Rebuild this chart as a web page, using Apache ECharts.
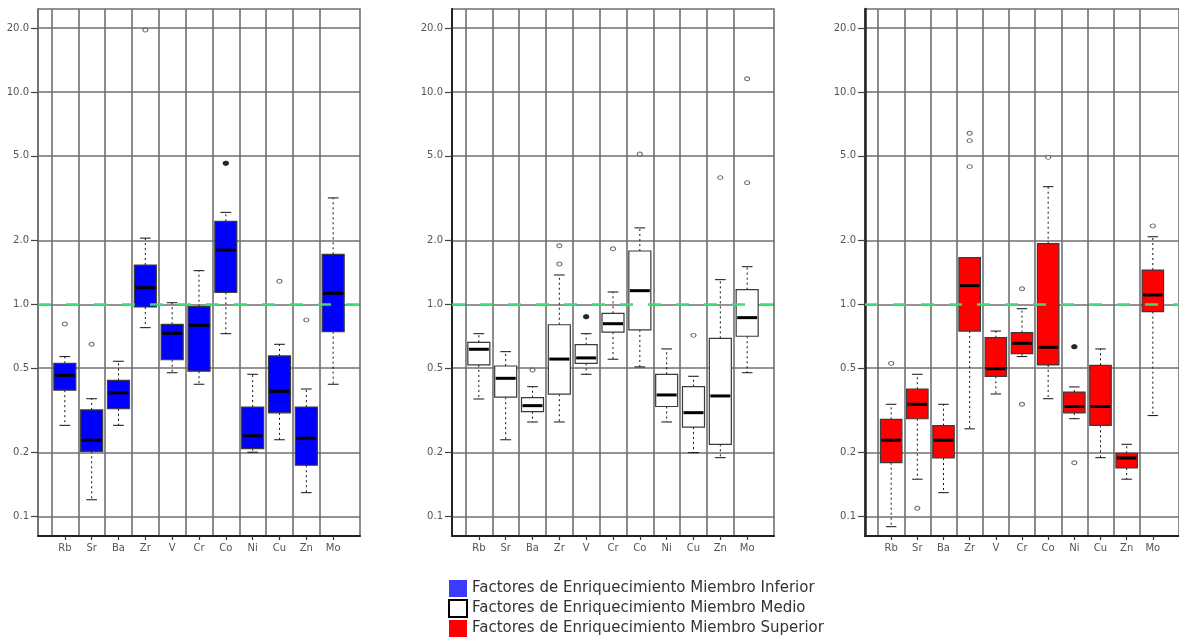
<!DOCTYPE html>
<html>
<head>
<meta charset="utf-8">
<script src="https://cdn.jsdelivr.net/npm/echarts@6/dist/echarts.min.js"></script>
<style>
  html, body { margin: 0; padding: 0; background: #ffffff; }
  #chart { width: 1179px; height: 643px; }
</style>
</head>
<body>
<div id="chart"></div>
<script>
// Elements shown on every panel, left to right
const elements = ['Rb', 'Sr', 'Ba', 'Zr', 'V', 'Cr', 'Co', 'Ni', 'Cu', 'Zn', 'Mo'];

// Log-scaled y axis: tick positions and their printed labels
const yTickValues = [0.1, 0.2, 0.5, 1, 2, 5, 10, 20];
const yTickLabels = ['0.1', '0.2', '0.5', '1.0', '2.0', '5.0', '10.0', '20.0'];
const yRange = [0.081, 24.6];
const referenceLevel = 1.0;

// Box statistics per element: [lower whisker, Q1, median, Q3, upper whisker]
const inferiorStats = [
  [0.269, 0.394, 0.463, 0.527, 0.567],
  [0.120, 0.203, 0.229, 0.318, 0.359],
  [0.269, 0.322, 0.383, 0.438, 0.539],
  [0.776, 0.971, 1.197, 1.53, 2.05],
  [0.476, 0.548, 0.730, 0.805, 1.017],
  [0.420, 0.484, 0.796, 0.974, 1.44],
  [0.727, 1.139, 1.80, 2.46, 2.71],
  [0.201, 0.209, 0.240, 0.328, 0.468],
  [0.230, 0.308, 0.389, 0.571, 0.648],
  [0.1296, 0.1745, 0.234, 0.328, 0.399],
  [0.420, 0.743, 1.127, 1.72, 3.17]
];
const inferiorOutliers = [[0.808], [0.648], [], [19.6], [], [], [4.62, 4.62], [], [1.283], [0.844], []];

const medioStats = [
  [0.358, 0.518, 0.614, 0.662, 0.727],
  [0.230, 0.365, 0.448, 0.512, 0.598],
  [0.279, 0.312, 0.333, 0.363, 0.409],
  [0.279, 0.377, 0.552, 0.801, 1.374],
  [0.468, 0.527, 0.559, 0.645, 0.727],
  [0.551, 0.740, 0.810, 0.907, 1.143],
  [0.507, 0.757, 1.159, 1.782, 2.29],
  [0.279, 0.330, 0.374, 0.468, 0.616],
  [0.200, 0.264, 0.3086, 0.409, 0.458],
  [0.1894, 0.219, 0.370, 0.691, 1.306],
  [0.476, 0.707, 0.865, 1.172, 1.503]
];
const medioOutliers = [[], [], [0.490], [1.548, 1.888], [0.874, 0.874], [1.827], [5.10], [], [0.714], [3.95], [3.74, 11.55]];

const superiorStats = [
  [0.0896, 0.1794, 0.229, 0.287, 0.338],
  [0.150, 0.289, 0.338, 0.398, 0.468],
  [0.1296, 0.1888, 0.229, 0.268, 0.338],
  [0.259, 0.748, 1.224, 1.658, 1.658],
  [0.378, 0.458, 0.497, 0.696, 0.748],
  [0.567, 0.585, 0.655, 0.735, 0.953],
  [0.359, 0.518, 0.627, 1.929, 3.58],
  [0.289, 0.308, 0.330, 0.386, 0.408],
  [0.1894, 0.269, 0.330, 0.516, 0.616],
  [0.150, 0.1694, 0.1888, 0.1987, 0.219],
  [0.299, 0.923, 1.106, 1.45, 2.08]
];
const superiorOutliers = [[0.527], [0.1094], [], [4.45, 5.90, 6.39], [], [0.338, 1.184], [4.92], [0.1794, 0.631, 0.631], [], [], [2.34]];

const seriesNames = [
  'Factores de Enriquecimiento Miembro Inferior',
  'Factores de Enriquecimiento Miembro Medio',
  'Factores de Enriquecimiento Miembro Superior'
];

// ---- drawing setup ----
const FONT = 'DejaVu Sans';
const GRID_COLOR = '#707070';
const BOX_WIDTH = 0.82;   // in category units
const CAP_WIDTH = 0.40;

const panels = [
  { name: seriesNames[0], stats: inferiorStats, outliers: inferiorOutliers, fill: '#0000ff', left: 38, yLine: GRID_COLOR, yLineW: 1.6 },
  { name: seriesNames[1], stats: medioStats, outliers: medioOutliers, fill: '#ffffff', left: 452, yLine: '#222222', yLineW: 2 },
  { name: seriesNames[2], stats: superiorStats, outliers: superiorOutliers, fill: '#ff0000', left: 865, yLine: '#222222', yLineW: 2.5 }
];

const log = Math.log10;
const yTickLogs = yTickValues.map(log);
const catPositions = elements.map((_, i) => i + 1);
const boundaryPositions = elements.map((_, i) => i + 0.5);

function yLabel(v) {
  const k = yTickLogs.findIndex(t => Math.abs(t - v) < 1e-6);
  return k >= 0 ? yTickLabels[k] : '';
}

function boxRenderer(fill) {
  return function (params, api) {
    const x = api.value(0);
    const lo = api.coord([x, api.value(1)]);
    const q1 = api.coord([x, api.value(2)]);
    const md = api.coord([x, api.value(3)]);
    const q3 = api.coord([x, api.value(4)]);
    const hi = api.coord([x, api.value(5)]);
    const unit = api.size([1, 0])[0];
    const hb = unit * BOX_WIDTH / 2;
    const hc = unit * CAP_WIDTH / 2;
    const cx = q1[0];
    const whisker = { stroke: '#111', lineWidth: 1, lineDash: [2, 3] };
    const cap = { stroke: '#111', lineWidth: 1 };
    return {
      type: 'group',
      children: [
        { type: 'line', shape: { x1: cx, y1: q3[1], x2: cx, y2: hi[1] }, style: whisker },
        { type: 'line', shape: { x1: cx, y1: q1[1], x2: cx, y2: lo[1] }, style: whisker },
        { type: 'line', shape: { x1: cx - hc, y1: hi[1], x2: cx + hc, y2: hi[1] }, style: cap },
        { type: 'line', shape: { x1: cx - hc, y1: lo[1], x2: cx + hc, y2: lo[1] }, style: cap },
        { type: 'rect', shape: { x: cx - hb, y: q3[1], width: 2 * hb, height: q1[1] - q3[1] },
          style: { fill: fill, stroke: '#3a3a3a', lineWidth: 1.2 } },
        { type: 'line', shape: { x1: cx - hb + 1, y1: md[1], x2: cx + hb - 1, y2: md[1] },
          style: { stroke: '#000', lineWidth: 3 } }
      ]
    };
  };
}

const grids = [], xAxes = [], yAxes = [], series = [];

panels.forEach((p, i) => {
  grids.push({
    left: p.left, top: 9, width: 322, height: 527,
    show: true, borderColor: GRID_COLOR, borderWidth: 1.6, backgroundColor: 'transparent'
  });
  // labelled axis: ticks and names at element positions
  xAxes.push({
    gridIndex: i, type: 'value', min: 0, max: 12, position: 'bottom',
    axisLine: { show: true, onZero: false, lineStyle: { color: '#222', width: 2 } },
    axisTick: { show: true, customValues: catPositions, length: 4, lineStyle: { color: '#333', width: 1.2 } },
    axisLabel: { show: true, customValues: catPositions, margin: 7, fontSize: 10, fontFamily: FONT, color: '#555',
      formatter: v => elements[Math.round(v) - 1] || '' },
    splitLine: { show: false }
  });
  // companion axis that only draws the vertical separators between elements
  xAxes.push({
    gridIndex: i, type: 'value', min: 0, max: 12, position: 'bottom',
    axisLine: { show: false },
    axisTick: { show: false, customValues: boundaryPositions },
    axisLabel: { show: false, customValues: boundaryPositions },
    splitLine: { show: true, lineStyle: { color: GRID_COLOR, width: 1.6 } }
  });
  yAxes.push({
    gridIndex: i, type: 'value', min: log(yRange[0]), max: log(yRange[1]),
    axisLine: { show: true, onZero: false, lineStyle: { color: p.yLine, width: p.yLineW } },
    axisTick: { show: true, customValues: yTickLogs, length: 7, lineStyle: { color: '#444', width: 1.2 } },
    axisLabel: { show: true, customValues: yTickLogs, margin: 9, fontSize: 10, fontFamily: FONT, color: '#555',
      formatter: yLabel },
    splitLine: { show: true, lineStyle: { color: GRID_COLOR, width: 1.6 } }
  });

  series.push({
    type: 'custom', name: p.name,
    xAxisIndex: 2 * i, yAxisIndex: i,
    data: p.stats.map((s, k) => [catPositions[k]].concat(s.map(log))),
    encode: { x: 0, y: [1, 2, 3, 4, 5] },
    renderItem: boxRenderer(p.fill),
    itemStyle: { color: p.fill },
    z: 3, silent: true
  });

  const pts = [];
  p.outliers.forEach((vals, k) => {
    vals.forEach(v => {
      const repeated = vals.filter(w => w === v).length > 1;
      pts.push({
        value: [catPositions[k], log(v)],
        itemStyle: repeated ? { color: '#222', borderColor: '#222' } : undefined
      });
    });
  });
  series.push({
    type: 'scatter', name: p.name + ' (valores atípicos)',
    xAxisIndex: 2 * i, yAxisIndex: i,
    data: pts,
    symbol: 'circle', symbolSize: [5, 4],
    itemStyle: { color: '#ffffff', borderColor: '#444', borderWidth: 1 },
    z: 5, silent: true,
    markLine: {
      silent: true, symbol: 'none',
      label: { show: false },
      lineStyle: { color: '#3ddc78', type: [13, 15], width: 2.5 },
      data: [{ yAxis: log(referenceLevel) }]
    }
  });
});

const chart = echarts.init(document.getElementById('chart'), null, { renderer: 'canvas' });
chart.setOption({
  animation: false,
  backgroundColor: '#ffffff',
  grid: grids,
  xAxis: xAxes,
  yAxis: yAxes,
  legend: {
    orient: 'vertical', left: 448, top: 580, padding: 0, height: 62,
    itemWidth: 18, itemHeight: 17, itemGap: 2,
    icon: 'rect', selectedMode: false,
    textStyle: { fontFamily: FONT, fontSize: 15, lineHeight: 17, color: '#333' },
    data: [
      { name: seriesNames[0], itemStyle: { color: '#3c3cff', borderWidth: 0 } },
      { name: seriesNames[1], itemStyle: { color: '#ffffff', borderColor: '#000', borderWidth: 2 } },
      { name: seriesNames[2], itemStyle: { color: '#ff0000', borderWidth: 0 } }
    ]
  },
  series: series
});
</script>
</body>
</html>
